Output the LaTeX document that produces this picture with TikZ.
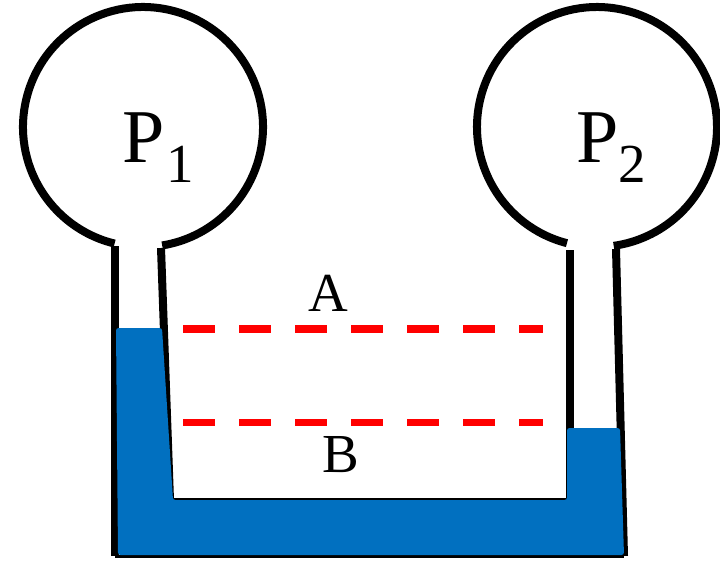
\documentclass[tikz,border=0pt]{standalone}
\usepackage{fontspec}
\usetikzlibrary{calc}
\setmainfont{Liberation Serif}
\definecolor{liquid}{RGB}{1,112,192}
\tikzset{
  wall/.style={draw=black,line width=8pt},
  bulb/.style={draw=black,line width=8pt,line cap=butt},
  level/.style={draw=red,line width=7.5pt,dash pattern=on 32.3pt off 23.7pt},
  biglbl/.style={inner sep=0pt,font=\fontsize{76}{76}\selectfont},
  midlbl/.style={inner sep=0pt,font=\fontsize{55}{55}\selectfont}
}
\begin{document}
\begin{tikzpicture}[x=1pt,y=-1pt]
\useasboundingbox (0,0) rectangle (720,560);
% walls
\draw[wall] (115,246) -- (115,556);
\draw[wall] (161,248) -- (170,500);
\draw[wall] (570,250) -- (570,500);
\draw[wall] (616,249) -- (624,556);
\draw[draw=black,line width=2.5pt] (170,499) -- (570,499);
\draw[draw=black,line width=3pt] (115,556) -- (624,556);
% bulbs
\coordinate (c1) at (143,127);
\coordinate (c2) at (597,127);
\draw[bulb] ($(c1)+(103.7:120)$) arc[start angle=103.7,delta angle=337.1,radius=120];
\draw[bulb] ($(c2)+(104.5:120)$) arc[start angle=104.5,delta angle=337.5,radius=120];
% liquid
\fill[liquid,rounded corners=2.5pt] (116,328) -- (162,328) -- (173,500) -- (567,500) -- (567,428) -- (620,428) -- (624,555) -- (118,555) -- cycle;
% levels
\coordinate (a1) at (183,329);
\coordinate (a2) at (543,329);
\coordinate (b1) at (183,422.5);
\coordinate (b2) at (543,422.5);
\draw[level] (a1) -- (a2);
\draw[level] (b1) -- (b2);
% labels
\node[biglbl,anchor=base] (p1) at (144,162) {P};
\node[midlbl,anchor=base] (s1) at (180,182) {1};
\node[biglbl,anchor=base] (p2) at (598,162) {P};
\node[midlbl,anchor=base] (s2) at (632,182) {2};
\node[midlbl,anchor=base] (A) at (328,311) {A};
\node[midlbl,anchor=base] (B) at (341,472) {B};
\end{tikzpicture}
\end{document}
